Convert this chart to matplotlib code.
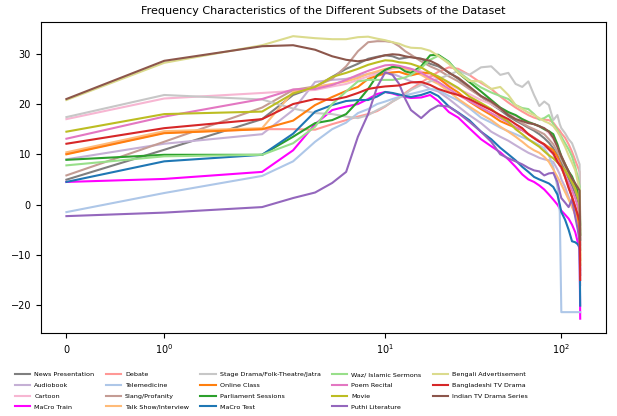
import matplotlib
matplotlib.use("Agg")
import matplotlib.pyplot as plt

# frequency bins (shared by every subset)
freq_bins = [0, 1, 2, 3, 4, 5, 6, 7, 8, 9, 10, 11, 12, 13, 14, 16, 18, 20, 23, 26, 30, 35, 40,
             45, 50, 55, 60, 65, 70, 75, 80, 85, 90, 95, 98, 100, 105, 110, 115, 120, 124, 127, 128]

news_presentation = [4.95, 10.9, 17.0, 21.8, 23.4, 25.4, 27.0, 28.0, 29.0, 29.4, 29.7, 29.5, 29.0, 29.2, 29.4,
                     29.0, 28.0, 27.5, 26.3, 25.0, 23.2, 21.5, 20.0, 18.8, 17.6, 16.7, 16.0, 15.3, 14.7, 14.0,
                     13.2, 12.3, 11.2, 9.8, 8.8, 8.2, 6.8, 5.2, 3.8, 2.2, 0.8, -0.5, -9.0]
audiobook = [9.0, 12.1, 14.0, 18.8, 24.4, 24.8, 25.0, 25.5, 26.0, 26.2, 26.3, 26.0, 25.5, 25.0, 24.5,
             24.0, 23.0, 22.5, 21.0, 19.5, 17.8, 16.2, 14.5, 13.5, 12.7, 11.8, 11.0, 10.3, 9.8, 9.3,
             9.0, 8.8, 8.5, 7.0, 6.0, 5.0, 3.5, 1.5, 0.0, -2.0, -4.0, -5.5, -16.0]
cartoon = [17.0, 21.1, 22.2, 22.6, 22.8, 23.5, 24.0, 24.8, 25.5, 26.0, 26.5, 27.0, 27.2, 27.2, 27.0,
           26.5, 25.8, 25.0, 24.0, 23.0, 22.0, 20.8, 20.0, 19.0, 18.3, 17.6, 17.0, 16.5, 16.0, 15.5,
           15.0, 14.2, 13.0, 11.5, 10.5, 9.8, 8.2, 6.5, 5.0, 3.5, 2.0, 0.5, -9.0]
macro_train = [4.5, 5.1, 6.5, 10.8, 16.0, 18.8, 19.5, 20.0, 21.0, 22.0, 22.4, 22.1, 21.7, 21.4, 21.2,
               21.3, 21.8, 20.6, 18.4, 17.3, 15.2, 13.0, 11.6, 10.4, 9.0, 7.5, 6.0, 5.0, 4.5, 3.8,
               3.0, 2.0, 1.0, 0.0, -0.8, -1.2, -2.0, -2.8, -4.0, -5.5, -7.5, -9.0, -22.7]
debate = [10.1, 14.3, 15.0, 15.0, 14.9, 16.0, 16.8, 17.5, 18.0, 18.6, 19.5, 20.5, 21.3, 22.2, 23.0,
          24.3, 25.4, 26.4, 27.3, 27.0, 25.8, 24.2, 23.0, 21.5, 20.3, 19.3, 18.5, 17.8, 17.3, 17.0,
          16.9, 16.8, 16.3, 15.2, 14.7, 14.2, 13.3, 12.0, 10.5, 8.8, 7.5, 6.5, -5.0]
telemedicine = [-1.5, 2.3, 5.7, 8.6, 12.5, 15.0, 16.3, 18.2, 19.0, 20.0, 20.5, 21.0, 21.4, 21.8, 22.0,
                22.5, 23.0, 22.8, 21.6, 20.7, 19.2, 17.3, 16.3, 15.3, 14.6, 14.0, 13.4, 12.9, 12.4, 11.8,
                11.2, 9.8, 7.5, 3.5, -1.5, -21.4, -21.4, -21.4, -21.4, -21.4, -21.4, -21.4, -21.4]
slang = [5.8, 12.5, 19.3, 22.8, 23.5, 25.0, 27.5, 30.5, 32.3, 32.5, 32.5, 32.3, 31.5, 30.5, 29.8,
         28.5, 27.5, 26.8, 25.5, 24.5, 23.0, 21.5, 20.3, 19.0, 18.0, 17.0, 16.2, 15.5, 15.0, 14.5,
         14.0, 13.0, 12.0, 10.5, 9.6, 9.0, 7.5, 6.0, 4.5, 3.0, 1.5, 0.5, -8.0]
talk_show = [10.4, 14.6, 15.2, 22.4, 23.4, 24.0, 24.5, 25.2, 26.0, 26.5, 27.0, 27.2, 27.3, 27.0, 26.6,
             25.8, 24.8, 24.0, 22.5, 21.0, 19.5, 18.0, 16.8, 15.5, 14.5, 13.5, 12.5, 11.5, 10.8, 10.3,
             9.5, 8.5, 7.0, 5.5, 4.6, 4.0, 2.5, 1.0, -0.5, -2.0, -3.5, -5.0, -10.0]
stage_drama = [17.4, 21.8, 20.9, 19.1, 18.2, 18.0, 17.5, 17.2, 17.8, 18.8, 19.6, 20.5, 21.2, 22.0, 22.8,
               23.8, 24.5, 25.0, 25.8, 26.6, 25.8, 27.3, 27.5, 25.8, 26.2, 24.0, 23.4, 24.5, 21.8, 19.6,
               20.5, 19.8, 16.8, 17.8, 16.0, 15.2, 14.2, 13.0, 12.2, 10.5, 9.0, 8.0, -4.0]
online_class = [10.0, 14.2, 15.0, 16.7, 19.8, 21.4, 22.6, 23.4, 25.0, 25.6, 26.1, 26.3, 26.4, 26.0, 25.7,
                26.2, 26.2, 25.2, 23.5, 22.3, 20.5, 19.0, 17.8, 16.6, 15.9, 15.3, 14.8, 14.0, 13.3, 12.6,
                12.0, 11.4, 10.8, 9.5, 8.3, 7.5, 5.5, 3.5, 1.5, -0.5, -2.5, -5.0, -11.0]
parliament = [8.9, 9.9, 9.9, 13.5, 16.2, 16.8, 18.0, 20.5, 23.0, 25.7, 26.8, 27.4, 27.3, 26.5, 26.2,
              27.5, 29.7, 29.8, 28.4, 26.2, 24.4, 22.5, 20.8, 19.3, 18.4, 17.8, 17.0, 16.4, 16.0, 15.6,
              15.0, 14.6, 14.0, 12.0, 10.5, 9.6, 8.0, 6.6, 5.6, 4.0, 2.5, 1.5, -6.0]
macro_test = [4.5, 8.6, 9.9, 14.1, 18.5, 19.8, 20.6, 20.8, 20.8, 21.5, 22.4, 22.2, 21.9, 21.6, 21.4,
              21.8, 22.4, 21.6, 19.5, 18.3, 16.8, 14.5, 13.0, 11.3, 10.0, 8.8, 7.5, 6.5, 5.5, 5.0,
              4.6, 4.2, 3.5, 2.0, 0.0, -1.5, -3.0, -5.0, -7.3, -7.5, -7.9, -8.5, -20.1]
waz = [7.8, 9.6, 9.9, 12.2, 15.5, 20.0, 22.5, 24.5, 24.8, 24.8, 24.8, 24.8, 25.0, 25.3, 25.8,
       27.2, 28.8, 29.6, 28.3, 26.4, 24.8, 23.3, 22.3, 21.6, 21.0, 19.8, 19.2, 19.0, 18.0, 16.9,
       17.2, 17.8, 16.0, 14.8, 14.0, 13.5, 12.2, 11.0, 9.6, 7.5, 5.5, 3.6, -4.0]
poem = [13.1, 17.5, 21.0, 22.9, 23.0, 23.8, 24.8, 25.8, 26.6, 27.2, 27.7, 27.8, 27.6, 27.3, 27.0,
        26.2, 25.2, 24.4, 23.0, 21.8, 20.6, 19.3, 18.2, 17.2, 16.3, 15.4, 14.8, 14.0, 13.3, 12.6,
        11.8, 11.0, 10.0, 8.8, 7.8, 7.2, 5.8, 4.3, 2.8, 1.2, -0.5, -2.0, -13.0]
movie = [14.5, 18.0, 18.5, 22.1, 23.4, 25.4, 26.2, 27.0, 27.8, 28.3, 28.7, 28.6, 28.3, 28.2, 28.0,
         27.3, 26.2, 25.5, 24.3, 23.2, 21.5, 20.2, 19.0, 17.6, 16.5, 15.0, 14.0, 13.0, 12.2, 11.5,
         10.6, 9.8, 9.2, 8.4, 7.9, 7.6, 6.8, 5.6, 4.5, 3.2, 1.5, 0.0, -12.0]
puthi = [-2.3, -1.6, -0.5, 1.3, 2.4, 4.3, 6.5, 13.5, 18.0, 23.4, 26.3, 25.8, 24.0, 21.0, 18.8,
         17.2, 18.8, 19.7, 19.5, 18.2, 16.5, 14.5, 12.5, 10.0, 9.2, 8.6, 8.0, 7.3, 6.8, 6.6,
         5.8, 6.2, 6.3, 4.5, 2.5, 1.3, 0.4, -0.5, 1.0, -2.5, -5.0, -7.5, -14.0]
bengali_ad = [20.8, 28.2, 31.7, 33.5, 33.1, 32.9, 32.9, 33.3, 33.4, 33.0, 32.7, 32.3, 32.0, 31.5, 31.2,
              31.1, 30.6, 29.6, 28.0, 26.2, 24.6, 24.5, 23.0, 23.4, 21.8, 19.8, 19.0, 18.3, 17.8, 17.2,
              16.6, 16.2, 15.6, 14.5, 13.7, 13.0, 11.5, 9.8, 8.3, 6.8, 4.5, 3.0, -6.0]
bd_tv_drama = [12.1, 15.2, 17.0, 20.0, 21.0, 20.8, 21.4, 22.2, 23.0, 23.3, 23.5, 23.6, 23.7, 24.0, 24.3,
               24.4, 23.8, 23.0, 22.3, 21.8, 21.0, 19.8, 18.8, 17.8, 17.0, 16.0, 15.2, 14.0, 13.2, 12.5,
               12.0, 11.0, 10.2, 8.5, 7.8, 7.5, 5.5, 3.3, 1.5, -0.5, -2.0, -3.3, -15.0]
indian_tv_drama = [21.0, 28.6, 31.5, 31.7, 30.8, 29.5, 28.8, 28.5, 28.8, 29.3, 29.7, 29.9, 29.8, 29.5, 29.3,
                   29.0, 28.6, 27.8, 26.2, 25.2, 23.5, 21.6, 20.5, 19.2, 17.8, 17.0, 16.6, 16.2, 16.0, 15.6,
                   15.2, 14.5, 13.3, 11.5, 10.3, 9.6, 8.0, 6.6, 5.2, 4.2, 3.4, 2.8, -7.0]

subsets = [
    ("News Presentation", news_presentation, "#7f7f7f"),
    ("Audiobook", audiobook, "#c5b0d5"),
    ("Cartoon", cartoon, "#f7b6d2"),
    ("MaCro Train", macro_train, "#ff00ff"),
    ("Debate", debate, "#ff9896"),
    ("Telemedicine", telemedicine, "#aec7e8"),
    ("Slang/Profanity", slang, "#c49c94"),
    ("Talk Show/Interview", talk_show, "#ffbb78"),
    ("Stage Drama/Folk-Theatre/Jatra", stage_drama, "#c7c7c7"),
    ("Online Class", online_class, "#ff7f0e"),
    ("Parliament Sessions", parliament, "#2ca02c"),
    ("MaCro Test", macro_test, "#1f77b4"),
    ("Waz/ Islamic Sermons", waz, "#98df8a"),
    ("Poem Recital", poem, "#e377c2"),
    ("Movie", movie, "#bcbd22"),
    ("Puthi Literature", puthi, "#9467bd"),
    ("Bengali Advertisement", bengali_ad, "#dbdb8d"),
    ("Bangladeshi TV Drama", bd_tv_drama, "#d62728"),
    ("Indian TV Drama Series", indian_tv_drama, "#8c564b"),
]

fig = plt.figure(figsize=(6.17, 4.16), dpi=100)
ax = fig.add_axes([0.066, 0.2, 0.916, 0.747])

for name, vals, col in subsets:
    ax.plot(freq_bins, vals, color=col, linewidth=1.5, label=name)

ax.set_xscale("symlog")
ax.tick_params(labelsize=7)
ax.set_title("Frequency Characteristics of the Different Subsets of the Dataset", fontsize=8)
ax.legend(loc="upper left", bbox_to_anchor=(-0.05, -0.118), ncol=5, frameon=False,
          fontsize=4.6, handlelength=2.4, handletextpad=0.6, columnspacing=1.8,
          labelspacing=0.82, borderaxespad=0.0)

plt.savefig("out.png", dpi=100)
